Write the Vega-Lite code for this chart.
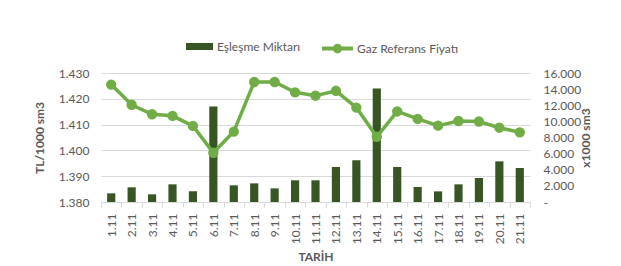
{
  "$schema": "https://vega.github.io/schema/vega-lite/v6.json",
  "autosize": "none",
  "width": 429,
  "height": 129,
  "padding": {"left": 101, "top": 73, "right": 91, "bottom": 64},
  "background": "white",
  "config": {
    "font": "Lato",
    "view": {"stroke": null},
    "axis": {"labelFont": "Lato", "labelFontSize": 12, "labelColor": "#595959", "titleFont": "Lato", "titleFontSize": 12, "titleColor": "#595959", "titleFontWeight": "bold"},
    "legend": {"labelFont": "Lato", "labelFontSize": 12, "labelColor": "#595959"}
  },
  "data": {"values": [
    {"tarih": "1.11", "miktar": 1075, "fiyat": 1425.5},
    {"tarih": "2.11", "miktar": 1820, "fiyat": 1417.7},
    {"tarih": "3.11", "miktar": 950, "fiyat": 1414.0},
    {"tarih": "4.11", "miktar": 2190, "fiyat": 1413.4},
    {"tarih": "5.11", "miktar": 1320, "fiyat": 1409.5},
    {"tarih": "6.11", "miktar": 11860, "fiyat": 1399.1},
    {"tarih": "7.11", "miktar": 2070, "fiyat": 1407.3},
    {"tarih": "8.11", "miktar": 2310, "fiyat": 1426.5},
    {"tarih": "9.11", "miktar": 1690, "fiyat": 1426.5},
    {"tarih": "10.11", "miktar": 2690, "fiyat": 1422.5},
    {"tarih": "11.11", "miktar": 2690, "fiyat": 1421.2},
    {"tarih": "12.11", "miktar": 4340, "fiyat": 1423.1},
    {"tarih": "13.11", "miktar": 5170, "fiyat": 1416.6},
    {"tarih": "14.11", "miktar": 14090, "fiyat": 1405.3},
    {"tarih": "15.11", "miktar": 4340, "fiyat": 1415.1},
    {"tarih": "16.11", "miktar": 1860, "fiyat": 1412.2},
    {"tarih": "17.11", "miktar": 1320, "fiyat": 1409.6},
    {"tarih": "18.11", "miktar": 2190, "fiyat": 1411.4},
    {"tarih": "19.11", "miktar": 2980, "fiyat": 1411.2},
    {"tarih": "20.11", "miktar": 5040, "fiyat": 1408.8},
    {"tarih": "21.11", "miktar": 4220, "fiyat": 1407.0}
  ]},
  "encoding": {
    "x": {
      "field": "tarih", "type": "nominal", "sort": null,
      "scale": {"paddingInner": 0, "paddingOuter": 0},
      "axis": {"title": "TARİH", "labelAngle": -90, "labelPadding": 6, "tickBand": "extent", "tickColor": "#d9d9d9", "domainColor": "#d9d9d9", "tickSize": 5, "titlePadding": 8, "grid": false}
    }
  },
  "layer": [
    {
      "mark": {"type": "bar", "width": {"band": 0.4}},
      "encoding": {
        "y": {
          "field": "miktar", "type": "quantitative",
          "scale": {"domain": [0, 16000], "nice": false},
          "axis": {"orient": "right", "title": "x1000 sm3", "titleAngle": 270, "labelOverlap": false, "values": [0,2000,4000,6000,8000,10000,12000,14000,16000], "labelExpr": "datum.value == 0 ? '-' : replace(format(datum.value, ',.0f'), ',', '.')", "grid": false, "domain": false, "ticks": false, "labelPadding": 13, "titlePadding": 12}
        },
        "fill": {"datum": "Eşleşme Miktarı", "scale": {"domain": ["Eşleşme Miktarı"], "range": ["#375623"]}, "legend": {"orient": "none", "legendX": 85, "legendY": -40, "title": null, "symbolType": "M-1,-0.26H1V0.26H-1Z", "symbolSize": 729, "symbolStrokeWidth": 0}}
      }
    },
    {
      "mark": {"type": "line", "color": "#70AD47", "strokeWidth": 3.5, "point": {"filled": true, "size": 70, "color": "#70AD47"}},
      "encoding": {
        "y": {
          "field": "fiyat", "type": "quantitative",
          "scale": {"domain": [1380, 1430], "nice": false},
          "axis": {"orient": "left", "title": "TL/1000 sm3", "values": [1380,1390,1400,1410,1420,1430], "labelExpr": "replace(format(datum.value, ',.0f'), ',', '.')", "grid": true, "gridColor": "#d9d9d9", "domain": false, "ticks": false, "labelPadding": 12, "titlePadding": 12}
        },
        "stroke": {"datum": "Gaz Referans Fiyatı", "scale": {"domain": ["Gaz Referans Fiyatı"], "range": ["#70AD47"]}, "legend": {"orient": "none", "legendX": 221, "legendY": -40, "title": null, "symbolType": "M-1,-0.13H-0.27A0.29,0.29 0 0,1 0.27,-0.13H1V0.13H0.27A0.29,0.29 0 0,1 -0.27,0.13H-1Z", "symbolSize": 961, "symbolFillColor": "#70AD47", "symbolStrokeWidth": 0}}
      }
    }
  ],
  "resolve": {"scale": {"y": "independent", "fill": "independent", "stroke": "independent"}}
}
